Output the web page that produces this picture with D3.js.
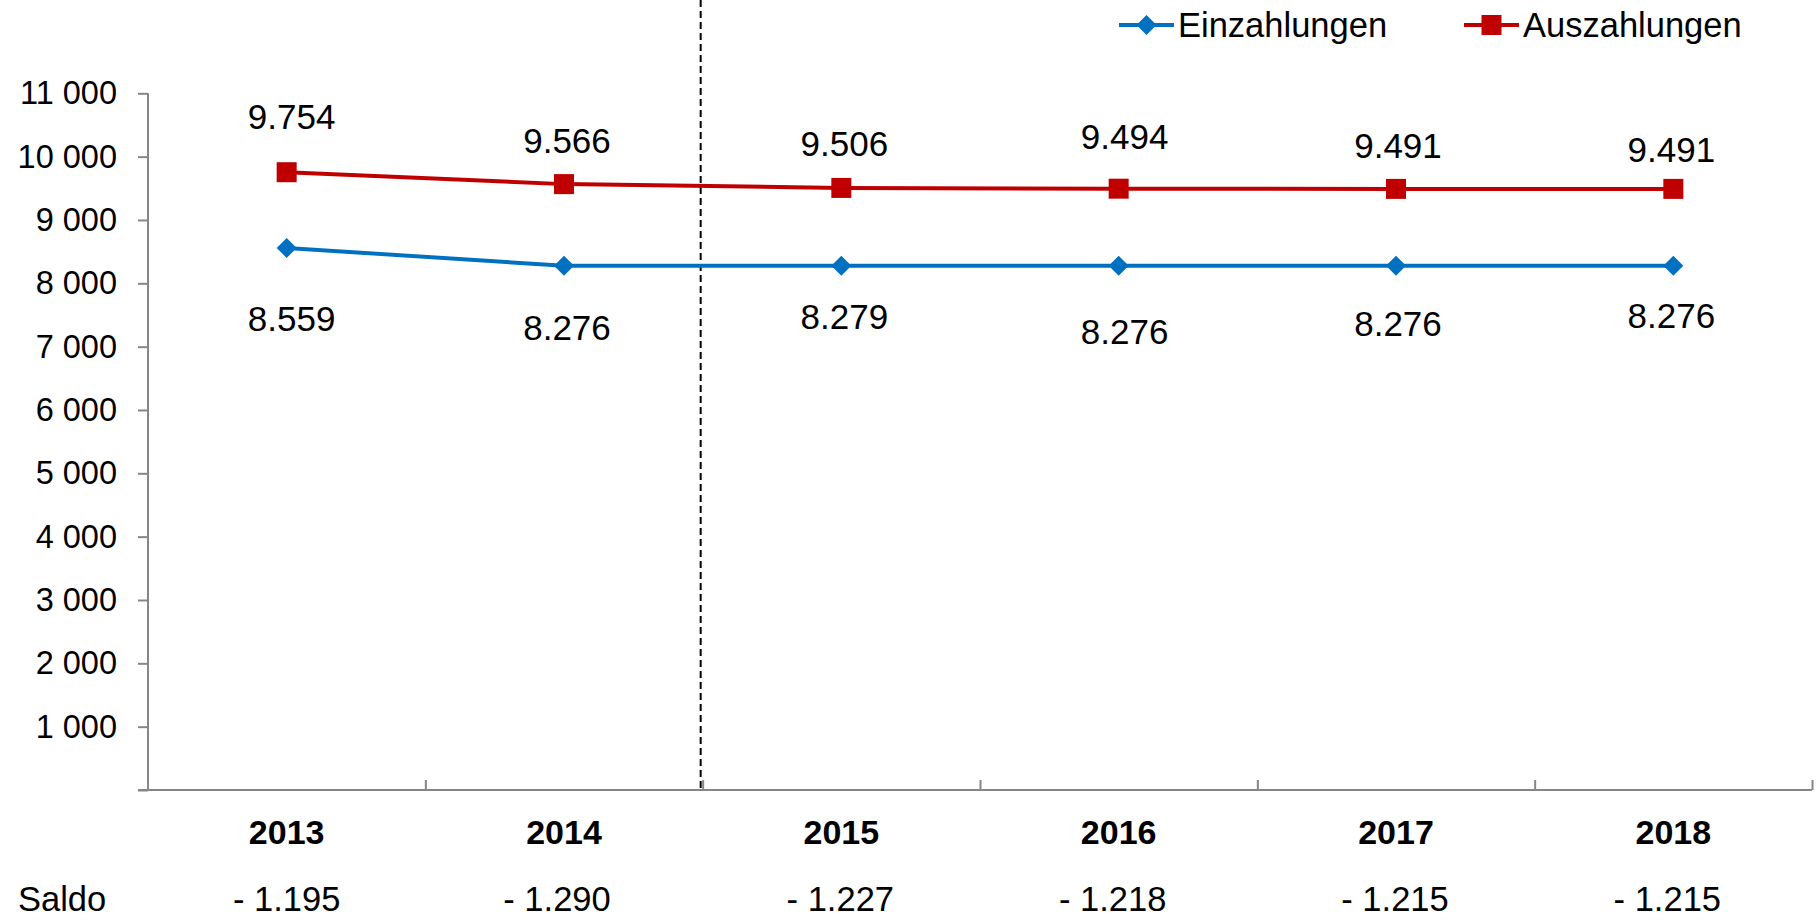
<!DOCTYPE html>
<html>
<head>
<meta charset="utf-8">
<script src="https://cdn.jsdelivr.net/npm/d3@7"></script>
<style>
    body { margin: 0; background: #fff; }
    text { font-family: "Liberation Sans", Arial, sans-serif; }
</style>
</head>
<body>
<div id="chart"></div>
<script>
var years = ["2013", "2014", "2015", "2016", "2017", "2018"];
var einzahlungen = [8559, 8276, 8279, 8276, 8276, 8276];
var auszahlungen = [9754, 9566, 9506, 9494, 9491, 9491];
var saldo = [-1195, -1290, -1227, -1218, -1215, -1215];
var yTicks = [0, 1000, 2000, 3000, 4000, 5000, 6000, 7000, 8000, 9000, 10000, 11000];
var seriesNames = ["Einzahlungen", "Auszahlungen"];

var width = 1819, height = 920;
var plotLeft = 148, plotRight = 1812, plotTop = 93.3, plotBottom = 790;
var blue = "#0070C0", red = "#C00000", axisColor = "#868686";

// label nudges (hand placed in the original)
var auszDy = [-55, -43, -44, -52, -43, -39];
var einzDy = [71, 62, 51, 66, 58, 50];
var labelDx = [5, 3, 3, 6, 2, -2];
var saldoDx = [0, -7, -1, -6, -1, -6];

var de = d3.formatLocale({decimal: ",", thousands: ".", grouping: [3], currency: ["", " €"]});
var labelFmt = de.format(",d");
var tickLocale = d3.formatLocale({decimal: ",", thousands: " ", grouping: [3], currency: ["", ""]});
var tickFmt = tickLocale.format(",d");

var svg = d3.select("#chart").append("svg")
    .attr("width", width)
    .attr("height", height);

var x = d3.scaleBand().domain(years).range([plotLeft, plotRight]).padding(0);
var xb = d3.scaleLinear().domain([0, years.length]).range([plotLeft, plotRight]);
var y = d3.scaleLinear().domain([0, 11000]).range([plotBottom, plotTop]);
function cx(d) { return x(d) + x.bandwidth() / 2; }

//draw y axis
var yAxis = svg.append("g")
    .attr("transform", "translate(" + plotLeft + ",0)")
    .call(d3.axisLeft(y).tickValues(yTicks).tickSize(10).tickPadding(21)
        .tickFormat(function (v) { return v === 0 ? "" : tickFmt(v); }));
yAxis.select(".domain").attr("stroke", axisColor).attr("stroke-width", 2).attr("d", "M0," + y(11000) + "V" + plotBottom);
yAxis.selectAll(".tick line").attr("stroke", axisColor).attr("stroke-width", 2);
yAxis.selectAll(".tick text").attr("font-size", 32.5).attr("fill", "#000");

//draw x axis (boundary ticks)
var xAxis = svg.append("g")
    .attr("transform", "translate(0," + plotBottom + ")")
    .call(d3.axisBottom(xb).tickValues([1, 2, 3, 4, 5, 6]).tickSize(-10).tickFormat(""));
xAxis.select(".domain").attr("stroke", axisColor).attr("stroke-width", 2).attr("d", "M" + (plotLeft - 10) + ",0H" + plotRight);
xAxis.selectAll(".tick line").attr("stroke", axisColor).attr("stroke-width", 2);

//year labels
var yearAxis = svg.append("g")
    .attr("transform", "translate(0," + (plotBottom + 30) + ")")
    .call(d3.axisBottom(x).tickSize(0).tickPadding(0));
yearAxis.select(".domain").remove();
yearAxis.selectAll("text").attr("font-size", 34).attr("font-weight", "bold").attr("fill", "#000");

//saldo row
svg.append("text").text("Saldo")
    .attr("x", 18).attr("y", 911)
    .attr("font-size", 34.5);
svg.selectAll(".saldo").data(saldo).enter().append("text")
    .attr("class", "saldo")
    .attr("x", function (d, i) { return cx(years[i]) + saldoDx[i]; })
    .attr("y", 911)
    .attr("font-size", 34.5)
    .attr("text-anchor", "middle")
    .text(function (d) { return "- " + labelFmt(Math.abs(d)); });

//dashed separator between actual and plan
svg.append("line")
    .attr("x1", x("2015") - 2).attr("x2", x("2015") - 2)
    .attr("y1", 0).attr("y2", plotBottom)
    .attr("stroke", "#000")
    .attr("stroke-width", 2)
    .attr("stroke-dasharray", "7,4");

var line = d3.line()
    .x(function (d, i) { return cx(years[i]); })
    .y(function (d) { return y(d); });

//einzahlungen
svg.append("path").datum(einzahlungen)
    .attr("d", line)
    .attr("fill", "none")
    .attr("stroke", blue)
    .attr("stroke-width", 4);
svg.selectAll(".einz").data(einzahlungen).enter().append("path")
    .attr("class", "einz")
    .attr("transform", function (d, i) { return "translate(" + cx(years[i]) + "," + y(d) + ")"; })
    .attr("d", "M0,-10L10,0L0,10L-10,0Z")
    .attr("fill", blue);

//auszahlungen
svg.append("path").datum(auszahlungen)
    .attr("d", line)
    .attr("fill", "none")
    .attr("stroke", red)
    .attr("stroke-width", 4);
svg.selectAll(".ausz").data(auszahlungen).enter().append("rect")
    .attr("class", "ausz")
    .attr("x", function (d, i) { return cx(years[i]) - 10; })
    .attr("y", function (d) { return y(d) - 10; })
    .attr("width", 20)
    .attr("height", 20)
    .attr("fill", red);

//value labels
svg.selectAll(".auszLabel").data(auszahlungen).enter().append("text")
    .attr("class", "auszLabel")
    .attr("x", function (d, i) { return cx(years[i]) + labelDx[i]; })
    .attr("y", function (d, i) { return y(d) + auszDy[i] + 12; })
    .attr("font-size", 35)
    .attr("text-anchor", "middle")
    .text(function (d) { return labelFmt(d); });
svg.selectAll(".einzLabel").data(einzahlungen).enter().append("text")
    .attr("class", "einzLabel")
    .attr("x", function (d, i) { return cx(years[i]) + labelDx[i]; })
    .attr("y", function (d, i) { return y(d) + einzDy[i] + 12; })
    .attr("font-size", 35)
    .attr("text-anchor", "middle")
    .text(function (d) { return labelFmt(d); });

//legend
var legend = svg.append("g");
var legendX = [1119, 1464];
seriesNames.forEach(function (name, i) {
    var col = i === 0 ? blue : red;
    var g = legend.append("g").attr("transform", "translate(" + legendX[i] + ",25)");
    g.append("line").attr("x1", 0).attr("x2", 55).attr("y1", 0).attr("y2", 0)
        .attr("stroke", col).attr("stroke-width", 4);
    if (i === 0) {
        g.append("path").attr("d", "M27.5,-10L37.5,0L27.5,10L17.5,0Z").attr("fill", col);
    } else {
        g.append("rect").attr("x", 17.5).attr("y", -10).attr("width", 20).attr("height", 20).attr("fill", col);
    }
    g.append("text").text(name)
        .attr("x", 59).attr("y", 12)
        .attr("font-size", 34.5);
});
</script>
</body>
</html>
